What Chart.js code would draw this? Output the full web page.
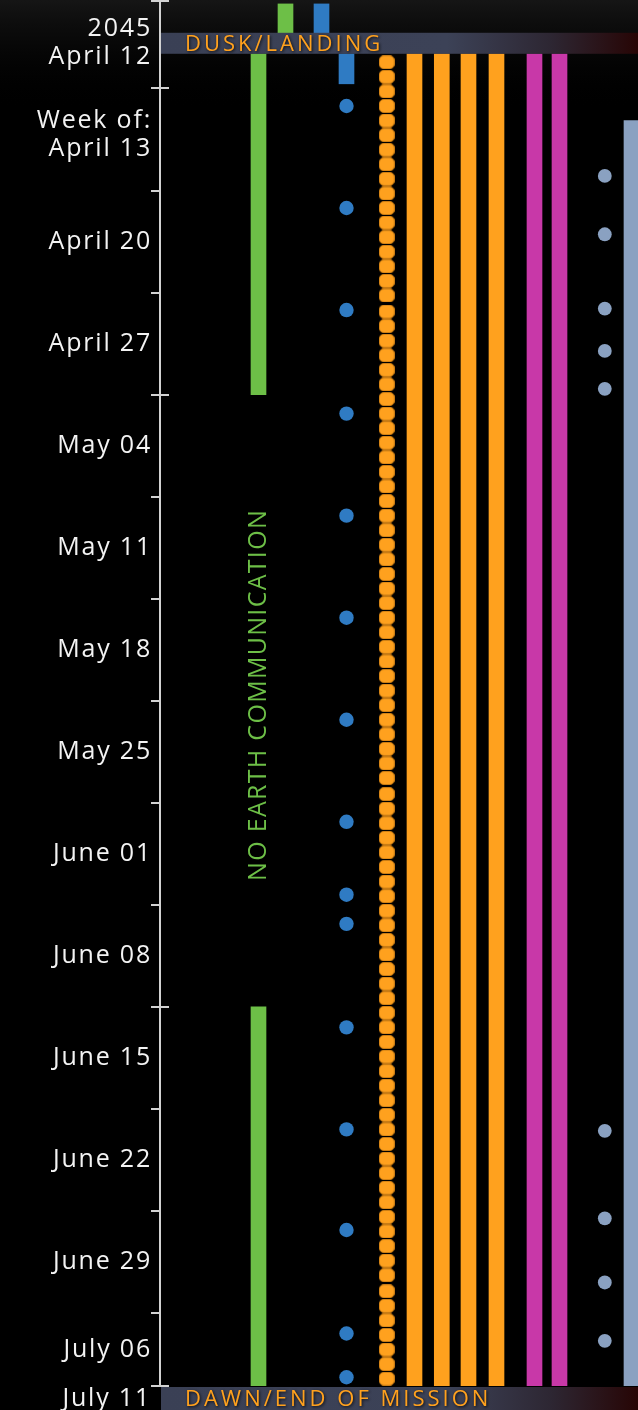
<!DOCTYPE html>
<html>
<head>
<meta charset="utf-8">
<script src="https://cdn.jsdelivr.net/npm/chart.js@4/dist/chart.umd.min.js"></script>
<style>
  html, body { margin: 0; padding: 0; background: #000; }
  #chart { display: block; }
</style>
</head>
<body>
<canvas id="chart" width="638" height="1410"></canvas>
<script>
// Days are counted from April 12, 2045 (day 0) to July 11 (day 90)
const dayMin = -5;
const dayMax = 90;
const weekStarts = [1, 8, 15, 22, 29, 36, 43, 50, 57, 64, 71, 78, 85];
const weekLabelDays = [4.2, 11.5, 18.5, 25.5, 32.5, 39.5, 46.5, 53.5, 60.5, 67.5, 74.5, 81.5, 87.5];
const weekLabels = [['Week of:', 'April 13'], 'April 20', 'April 27', 'May 04', 'May 11', 'May 18',
  'May 25', 'June 01', 'June 08', 'June 15', 'June 22', 'June 29', 'July 06'];
const startLabelDay = -2.1;
const startLabel = ['2045', 'April 12'];
const endLabel = 'July 11';
const landingBand = [-2.82, -1.38];
const phaseMarks = [1, 22, 64];

// series (start/end day of each bar, day of each dot)
const earthCommBars = [[-1.38, 22], [64, 90]];
const preLandingGreen = [[-4.8, -2.82]];
const preLandingBlue = [[-4.8, -2.82]];
const blueBars = [[-1.38, 0.68]];
const blueDots = [2.2, 9.2, 16.2, 23.3, 30.3, 37.3, 44.3, 51.3, 56.3, 58.3, 65.4, 72.4, 79.3, 86.4, 89.4];
const orangeDots = [-0.8, 0.2, 1.2, 2.2, 3.2, 4.2, 5.2, 6.2, 7.2, 8.2, 9.2, 10.2, 11.2, 12.2, 13.2, 14.2, 15.2,
  16.3, 17.3, 18.3, 19.3, 20.3, 21.3, 22.3, 23.3, 24.3, 25.3, 26.3, 27.3, 28.3, 29.3, 30.3, 31.3, 32.3,
  33.3, 34.3, 35.3, 36.3, 37.3, 38.3, 39.3, 40.3, 41.3, 42.3, 43.3, 44.3, 45.3, 46.3, 47.3, 48.3,
  49.4, 50.4, 51.4, 52.4, 53.4, 54.4, 55.4, 56.4, 57.4, 58.4, 59.4, 60.4, 61.4, 62.4, 63.4, 64.4, 65.4,
  66.4, 67.4, 68.4, 69.4, 70.4, 71.4, 72.4, 73.4, 74.4, 75.4, 76.4, 77.4, 78.4, 79.4, 80.4, 81.4, 82.4,
  83.5, 84.5, 85.5, 86.5, 87.5, 88.5, 89.5];
const orangeBars = [[-1.38, 90], [-1.38, 90], [-1.38, 90], [-1.38, 90]];
const magentaBars = [[-1.38, 90], [-1.38, 90]];
const grayDots = [7.0, 11.0, 16.1, 19.0, 21.6, 72.5, 78.5, 82.9, 86.9];
const grayBars = [[3.2, 90]];

// lane centres, in page pixels (x scale runs 160..638)
const lanes = {
  green: 258.5, greenTop: 285.5, blueTop: 321.5, blue: 346.5, orangeDots: 386.7,
  orange: [414.5, 441.8, 468.5, 496.5], magenta: [534.5, 559.5], grayDots: 604.8, gray: 631.5
};

const colors = {
  green: '#6dbf47', blue: '#2f7bc3', orange: '#ffa11e', orangeEdge: '#c97c14',
  magenta: '#c838a8', gray: '#8aa1c1', axis: '#d2d2d2', text: '#f3f3f3'
};
const FONT = "'Open Sans', 'DejaVu Sans', sans-serif";

const labelByDay = new Map();
weekLabelDays.forEach((d, i) => labelByDay.set(d, weekLabels[i]));
labelByDay.set(startLabelDay, startLabel);
const tickDays = [dayMin, ...weekStarts, dayMax, startLabelDay, ...weekLabelDays].sort((a, b) => a - b);

const dayDot = (() => {
  const c = document.createElement('canvas');
  c.width = 16; c.height = 14;
  const g = c.getContext('2d');
  g.fillStyle = colors.orange;
  g.strokeStyle = colors.orangeEdge;
  g.lineWidth = 1;
  g.beginPath();
  g.roundRect(0.5, 0.5, 15, 13, 4.5);
  g.fill();
  g.stroke();
  return c;
})();

function barSet(ranges, xs, color) {
  return {
    type: 'bar',
    data: ranges.map((r, i) => ({ x: Array.isArray(xs) ? xs[i] : xs, y: r })),
    backgroundColor: color,
    barThickness: 15,
    borderWidth: 0,
    stack: 'lanes'
  };
}
function dotSet(days, x, color, radius) {
  return {
    type: 'scatter',
    data: days.map(d => ({ x: x, y: d })),
    backgroundColor: color,
    borderWidth: 0,
    pointRadius: radius,
    pointHoverRadius: radius
  };
}

const scene = {
  id: 'scene',
  beforeDraw(chart) {
    const { ctx, width, height } = chart;
    ctx.save();
    ctx.fillStyle = '#000';
    ctx.fillRect(0, 0, width, height);
    const haze = ctx.createLinearGradient(0, 0, 0, 110);
    haze.addColorStop(0, 'rgba(70,70,70,0.3)');
    haze.addColorStop(1, 'rgba(0,0,0,0)');
    ctx.fillStyle = haze;
    ctx.fillRect(0, 0, width, 110);
    ctx.restore();
    // wide tracking for the axis labels
    ctx.letterSpacing = '1.8px';
  },
  afterDatasetsDraw(chart) {
    const { ctx, chartArea: a, width, height } = chart;
    const y = chart.scales.y, x = chart.scales.x;

    const band = (top, bottom, text) => {
      const g = ctx.createLinearGradient(a.left, 0, width, 0);
      g.addColorStop(0, '#3a4055');
      g.addColorStop(0.6, '#3c4257');
      g.addColorStop(0.82, '#2d2632');
      g.addColorStop(1, '#270505');
      ctx.fillStyle = g;
      ctx.fillRect(a.left + 1, top, width - a.left, bottom - top);
      ctx.font = '500 22px ' + FONT;
      ctx.letterSpacing = '3px';
      ctx.textBaseline = 'middle';
      ctx.textAlign = 'left';
      ctx.shadowColor = 'rgba(0,0,0,0.8)';
      ctx.shadowBlur = 3;
      ctx.shadowOffsetX = 1;
      ctx.shadowOffsetY = 1;
      ctx.fillStyle = colors.orange;
      ctx.fillText(text, 185, (top + bottom) / 2 + 1);
      ctx.shadowColor = 'transparent';
    };

    ctx.save();
    band(y.getPixelForValue(landingBand[0]), y.getPixelForValue(landingBand[1]), 'DUSK/LANDING');
    band(a.bottom + 1, height, 'DAWN/END OF MISSION');

    // ticks that cross the axis line
    ctx.strokeStyle = colors.axis;
    ctx.lineWidth = 2;
    [dayMin, ...phaseMarks, dayMax].forEach(d => {
      const py = Math.round(y.getPixelForValue(d));
      ctx.beginPath();
      ctx.moveTo(a.left, py);
      ctx.lineTo(a.left + 9, py);
      ctx.stroke();
    });

    // end date under the axis
    ctx.font = '25px ' + FONT;
    ctx.letterSpacing = '1.8px';
    ctx.fillStyle = colors.text;
    ctx.textAlign = 'right';
    ctx.textBaseline = 'middle';
    ctx.fillText(endLabel, a.left - 9, a.bottom + 13);

    // blackout note
    ctx.translate(x.getPixelForValue(lanes.green), y.getPixelForValue(42.6));
    ctx.rotate(-Math.PI / 2);
    ctx.textAlign = 'center';
    ctx.fillStyle = colors.green;
    ctx.font = '25px ' + FONT;
    ctx.letterSpacing = '1.3px';
    ctx.fillText('NO EARTH COMMUNICATION', 0, 0);
    ctx.restore();
  }
};

new Chart(document.getElementById('chart'), {
  type: 'bar',
  data: {
    datasets: [
      barSet(earthCommBars, lanes.green, colors.green),
      barSet(preLandingGreen, lanes.greenTop, colors.green),
      barSet(preLandingBlue, lanes.blueTop, colors.blue),
      barSet(blueBars, lanes.blue, colors.blue),
      barSet(orangeBars, lanes.orange, colors.orange),
      barSet(magentaBars, lanes.magenta, colors.magenta),
      barSet(grayBars, lanes.gray, colors.gray),
      dotSet(blueDots, lanes.blue, colors.blue, 7.2),
      dotSet(grayDots, lanes.grayDots, colors.gray, 6.9),
      {
        type: 'scatter',
        data: orangeDots.map(d => ({ x: lanes.orangeDots, y: d })),
        pointStyle: dayDot,
        pointRadius: 8
      }
    ]
  },
  options: {
    responsive: false,
    devicePixelRatio: 1,
    animation: false,
    layout: { autoPadding: false, padding: { top: 1, bottom: 24, left: 0, right: 0 } },
    plugins: { legend: { display: false }, tooltip: { enabled: false } },
    scales: {
      x: {
        type: 'linear', min: 160, max: 638, display: false, stacked: true, offset: false,
        grid: { offset: false }
      },
      y: {
        type: 'linear', reverse: true, min: dayMin, max: dayMax, bounds: 'data', stacked: false,
        afterBuildTicks: s => { s.ticks = tickDays.map(v => ({ value: v })); },
        afterFit: s => { s.width = 160; s.paddingTop = 0; s.paddingBottom = 0; },
        grid: {
          drawOnChartArea: false,
          tickLength: 9,
          lineWidth: 2,
          tickColor: c => (c.tick && labelByDay.has(c.tick.value)) ? 'rgba(0,0,0,0)' : colors.axis
        },
        border: { display: true, color: colors.axis, width: 2 },
        ticks: {
          autoSkip: false,
          padding: -1,
          color: colors.text,
          font: { family: FONT, size: 25, lineHeight: 1.12 },
          callback: v => labelByDay.has(v) ? labelByDay.get(v) : ''
        }
      }
    }
  },
  plugins: [scene]
});
</script>
</body>
</html>
